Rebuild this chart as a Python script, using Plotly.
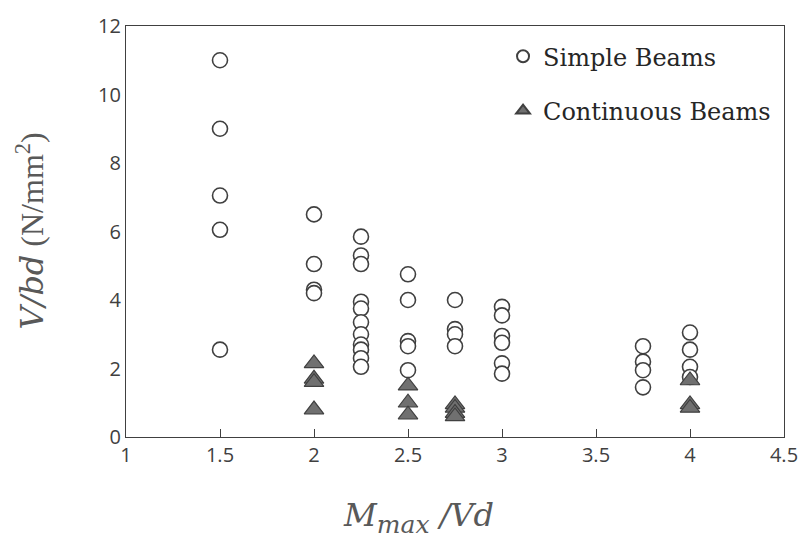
import plotly.graph_objects as go

# Simple beams
simple_x = [1.5]*5 + [2]*4 + [2.25]*11 + [2.5]*5 + [2.75]*4 + [3]*6 + [3.75]*4 + [4]*4
simple_y = [11, 9, 7.05, 6.05, 2.55,
            6.5, 5.05, 4.3, 4.2,
            5.85, 5.3, 5.05, 3.95, 3.75, 3.35, 3.0, 2.7, 2.55, 2.3, 2.05,
            4.75, 4.0, 2.8, 2.65, 1.95,
            4.0, 3.15, 3.0, 2.65,
            3.8, 3.55, 2.95, 2.75, 2.15, 1.85,
            2.65, 2.2, 1.95, 1.45,
            3.05, 2.55, 2.05, 1.75]

# Continuous beams
cont_x = [2]*4 + [2.5]*3 + [2.75]*4 + [4]*3
cont_y = [2.15, 1.7, 1.6, 0.8,
          1.5, 1.0, 0.65,
          0.95, 0.85, 0.7, 0.6,
          1.65, 0.95, 0.85]

x_ticks = [1, 1.5, 2, 2.5, 3, 3.5, 4, 4.5]
y_ticks = [0, 2, 4, 6, 8, 10, 12]

fig = go.Figure()
fig.add_trace(go.Scatter(
    x=simple_x, y=simple_y, mode="markers", name="Simple Beams",
    legendgroup="a",
    marker=dict(symbol="circle", size=15, color="white",
                line=dict(color="#404040", width=1.6)),
))
fig.add_trace(go.Scatter(
    x=cont_x, y=cont_y, mode="markers", name="Continuous Beams",
    legendgroup="b",
    marker=dict(symbol="triangle-up", size=17, color="#707070",
                line=dict(color="#404040", width=1.2)),
))

axis_common = dict(showgrid=False, zeroline=False, showline=True,
                   linecolor="#404040", linewidth=1.3, mirror=True,
                   tickfont=dict(family="Open Sans", size=20, color="#404040"))

fig.update_layout(
    width=810, height=550,
    margin=dict(l=126, r=17, t=22, b=113),
    plot_bgcolor="white", paper_bgcolor="white",
    xaxis=dict(range=[1, 4.5], tickvals=x_ticks, ticktext=[str(v) for v in x_ticks],
               ticks="inside", ticklen=8, tickcolor="#404040", **axis_common),
    yaxis=dict(range=[0, 12], tickvals=y_ticks, ticks="", **axis_common),
    legend=dict(x=0.573, y=0.98, xanchor="left", yanchor="top",
                bgcolor="rgba(0,0,0,0)", traceorder="grouped",
                tracegroupgap=20, itemsizing="constant",
                font=dict(family="DejaVu Serif", size=24, color="#262626")),
    annotations=[
        dict(text="<i>M</i><sub><span style='font-size:25px'><i>max</i></span></sub><i> /Vd</i>",
             xref="paper", yref="paper", x=0.444, y=0, yshift=-80,
             xanchor="center", yanchor="middle", showarrow=False,
             font=dict(family="DejaVu Serif", size=32, color="#595959")),
        dict(text="<span style='font-family:DejaVu Serif'><i>V/bd</i></span> (N/mm<sup>2</sup>)",
             xref="paper", yref="paper", x=0, xshift=-96, y=0.5,
             xanchor="center", yanchor="middle", textangle=-90, showarrow=False,
             font=dict(family="Liberation Serif", size=32, color="#595959")),
    ],
)

fig.write_html("out.html")
